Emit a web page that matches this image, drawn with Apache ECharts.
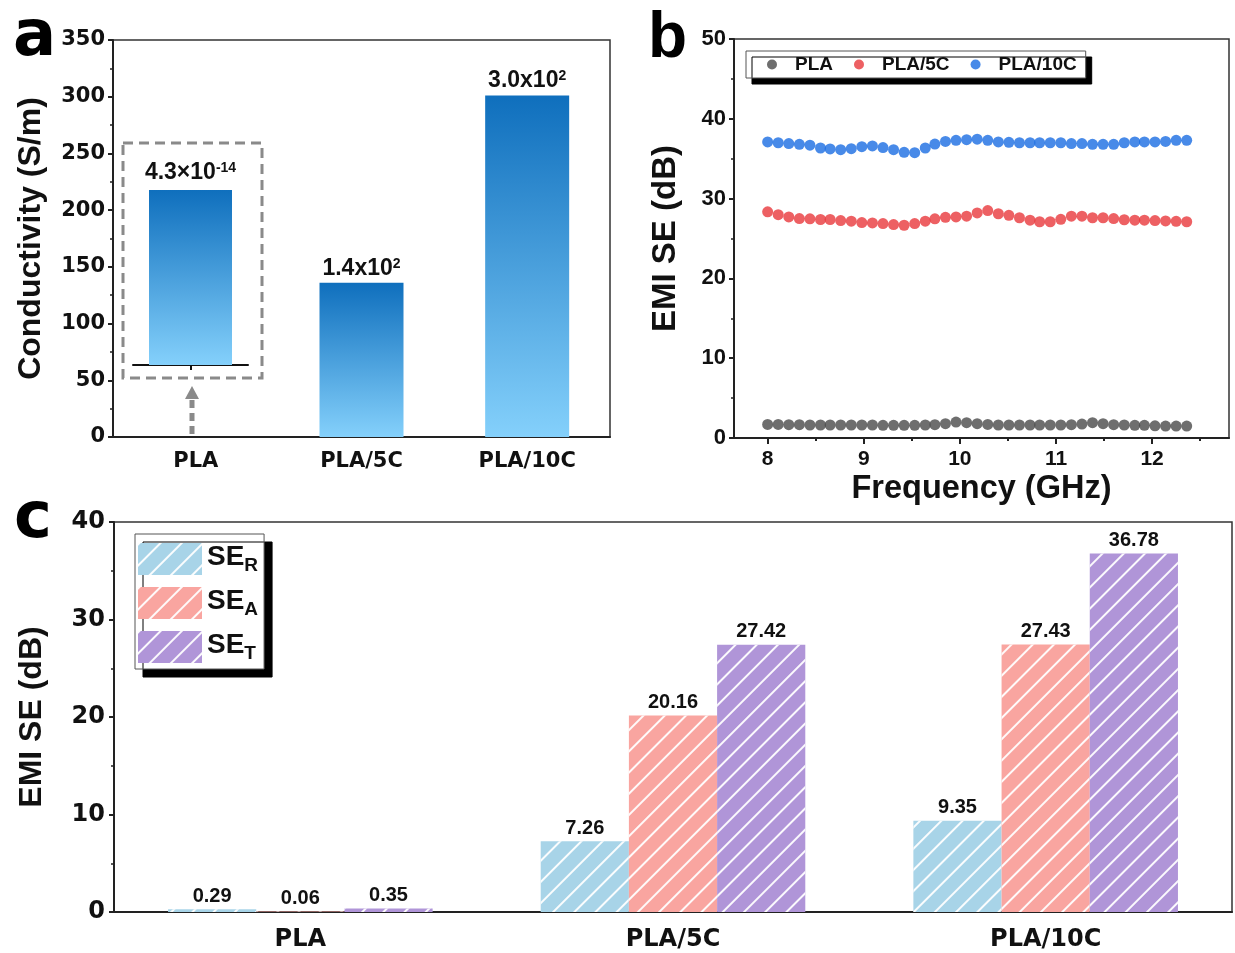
<!DOCTYPE html>
<html>
<head>
<meta charset="utf-8">
<script src="https://cdn.jsdelivr.net/npm/echarts@6/dist/echarts.min.js"></script>
<style>
  html, body { margin: 0; padding: 0; background: #fff; }
  #main { width: 1235px; height: 953px; }
</style>
</head>
<body>
<div id="main"></div>
<script>
// ---- data ----
const catsA = ['PLA', 'PLA/5C', 'PLA/10C']
const condVals = [4.3e-14, 136, 301]
const condBase = ['4.3×10', '1.4x10', '3.0x10']
const condExp = ['-14', '2', '2']

const freq = [8.00, 8.11, 8.22, 8.33, 8.44, 8.55, 8.65, 8.76, 8.87, 8.98,
  9.09, 9.20, 9.31, 9.42, 9.53, 9.64, 9.74, 9.85, 9.96, 10.07,
  10.18, 10.29, 10.40, 10.51, 10.62, 10.73, 10.83, 10.94, 11.05, 11.16,
  11.27, 11.38, 11.49, 11.60, 11.71, 11.82, 11.92, 12.03, 12.14, 12.25, 12.36]
const sePLA = [1.70, 1.70, 1.67, 1.67, 1.63, 1.63, 1.63, 1.63, 1.63, 1.63,
  1.63, 1.59, 1.59, 1.59, 1.59, 1.63, 1.67, 1.80, 2.00, 1.92,
  1.80, 1.70, 1.63, 1.63, 1.63, 1.63, 1.63, 1.63, 1.63, 1.67,
  1.75, 1.92, 1.80, 1.67, 1.63, 1.59, 1.59, 1.52, 1.50, 1.50, 1.50]
const sePLA5C = [28.34, 27.99, 27.70, 27.50, 27.47, 27.38, 27.38, 27.25, 27.17, 27.00,
  26.95, 26.87, 26.74, 26.66, 26.87, 27.17, 27.47, 27.66, 27.70, 27.80,
  28.20, 28.50, 28.10, 27.90, 27.60, 27.30, 27.10, 27.10, 27.40, 27.80,
  27.80, 27.60, 27.60, 27.50, 27.35, 27.30, 27.30, 27.25, 27.20, 27.15, 27.10]
const sePLA10C = [37.10, 37.00, 36.90, 36.80, 36.70, 36.34, 36.22, 36.13, 36.26, 36.50,
  36.60, 36.40, 36.13, 35.80, 35.76, 36.34, 36.84, 37.17, 37.30, 37.38,
  37.45, 37.30, 37.10, 37.05, 37.00, 37.00, 37.00, 37.00, 37.00, 36.90,
  36.90, 36.80, 36.80, 36.80, 37.00, 37.10, 37.10, 37.10, 37.17, 37.30, 37.30]
const freqTicks = [8, 9, 10, 11, 12]
const freqMinor = [8.5, 9.5, 10.5, 11.5, 12.5]

const catsC = ['PLA', 'PLA/5C', 'PLA/10C']
const seR = [0.29, 7.26, 9.35]
const seA = [0.06, 20.16, 27.43]
const seT = [0.35, 27.42, 36.78]

// ---- shared styles ----
const FONT = 'Liberation Sans, Arial, sans-serif'
const WIDE = 'DejaVu Sans, sans-serif'
const bold = (size, fam) => ({ fontFamily: fam || FONT, fontWeight: 'bold', fontSize: size, color: '#111' })
const axisLine = { show: true, lineStyle: { color: '#222', width: 2 } }
const hatch = {
  symbol: 'rect',
  symbolSize: 1,
  dashArrayX: [1, 0],
  dashArrayY: [2, 13],
  rotation: -Math.PI / 4,
  color: 'rgba(255,255,255,0.95)'
}
const blueGrad = new echarts.graphic.LinearGradient(0, 0, 0, 1, [
  { offset: 0, color: '#0f6fbd' },
  { offset: 1, color: '#84d0fb' }
])
const supRich = {
  b: bold(23),
  s: Object.assign(bold(14), { verticalAlign: 'top' })
}

const chart = echarts.init(document.getElementById('main'))
chart.setOption({
  backgroundColor: '#fff',
  animation: false,
  grid: [
    { left: 113, top: 40, width: 497, height: 397, show: true, borderColor: '#333', borderWidth: 1.5 },
    { left: 133, top: 190, width: 115, height: 175 },
    { left: 734, top: 39, width: 495, height: 399, show: true, borderColor: '#333', borderWidth: 1.5 },
    { left: 114, top: 522, width: 1118, height: 390, show: true, borderColor: '#333', borderWidth: 1.5 }
  ],
  xAxis: [
    { // a
      type: 'category', gridIndex: 0, data: catsA,
      axisLine: axisLine, axisTick: { show: false },
      axisLabel: Object.assign(bold(21, WIDE), { margin: 14 })
    },
    { // a inset
      type: 'category', gridIndex: 1, data: ['PLA'],
      axisLine: { show: true, lineStyle: { color: '#111', width: 2 } },
      axisTick: { show: true, alignWithLabel: true, length: 5, lineStyle: { color: '#111', width: 2 } },
      axisLabel: { show: false }
    },
    { // b
      type: 'value', gridIndex: 2, min: 7.65, max: 12.8,
      axisLine: axisLine,
      axisTick: { show: true, customValues: freqTicks, length: 6, lineStyle: { width: 2, color: '#222' } },
      axisLabel: Object.assign(bold(21), { customValues: freqTicks, margin: 11 }),
      splitLine: { show: false },
      name: 'Frequency (GHz)', nameLocation: 'middle', nameGap: 35,
      nameTextStyle: bold(32.5)
    },
    { // b minor ticks
      type: 'value', gridIndex: 2, min: 7.65, max: 12.8, position: 'bottom',
      axisLine: { show: false },
      axisTick: { show: true, customValues: freqMinor, length: 3, lineStyle: { width: 2, color: '#222' } },
      axisLabel: { show: false }, splitLine: { show: false }
    },
    { // c
      type: 'category', gridIndex: 3, data: catsC,
      axisLine: axisLine, axisTick: { show: false },
      axisLabel: Object.assign(bold(24, WIDE), { margin: 16 })
    }
  ],
  yAxis: [
    { // a
      type: 'value', gridIndex: 0, min: 0, max: 350, interval: 50,
      axisLine: axisLine,
      axisTick: { show: true, length: 5, lineStyle: { width: 2, color: '#222' } },
      minorTick: { show: true, splitNumber: 2, length: 3, lineStyle: { width: 1.5, color: '#222' } },
      axisLabel: Object.assign(bold(21, WIDE), { margin: 8 }),
      splitLine: { show: false },
      name: 'Conductivity (S/m)', nameLocation: 'middle', nameRotate: 90, nameGap: 66,
      nameTextStyle: bold(32)
    },
    { // a inset
      type: 'value', gridIndex: 1, min: 0, max: condVals[0], show: false
    },
    { // b
      type: 'value', gridIndex: 2, min: 0, max: 50, interval: 10,
      axisLine: axisLine,
      axisTick: { show: true, length: 5, lineStyle: { width: 2, color: '#222' } },
      minorTick: { show: true, splitNumber: 2, length: 3, lineStyle: { width: 1.5, color: '#222' } },
      axisLabel: Object.assign(bold(22), { margin: 8 }),
      splitLine: { show: false },
      name: 'EMI SE (dB)', nameLocation: 'middle', nameRotate: 90, nameGap: 52,
      nameTextStyle: bold(33)
    },
    { // c
      type: 'value', gridIndex: 3, min: 0, max: 40, interval: 10,
      axisLine: axisLine,
      axisTick: { show: true, length: 5, lineStyle: { width: 2, color: '#222' } },
      minorTick: { show: true, splitNumber: 2, length: 3, lineStyle: { width: 1.5, color: '#222' } },
      axisLabel: Object.assign(bold(24, WIDE), { margin: 9 }),
      splitLine: { show: false },
      name: 'EMI SE (dB)', nameLocation: 'middle', nameRotate: 90, nameGap: 66,
      nameTextStyle: bold(32)
    }
  ],
  legend: [
    {
      data: ['PLA', 'PLA/5C', 'PLA/10C'],
      left: 746, top: 51, orient: 'horizontal',
      icon: 'circle', itemWidth: 10, itemHeight: 10, itemGap: 21,
      padding: [4, 9, 4, 21],
      backgroundColor: '#fff', borderColor: '#555', borderWidth: 1,
      shadowColor: '#000', shadowBlur: 0, shadowOffsetX: 6, shadowOffsetY: 6,
      textStyle: Object.assign(bold(19), { padding: [0, 0, 0, 13] })
    },
    {
      data: ['SE_R', 'SE_A', 'SE_T'],
      left: 135, top: 534, orient: 'vertical',
      icon: 'rect', itemWidth: 64, itemHeight: 32, itemGap: 8,
      padding: [5, 6, 6, 3],
      backgroundColor: '#fff', borderColor: '#555', borderWidth: 1,
      shadowColor: '#000', shadowBlur: 0, shadowOffsetX: 8, shadowOffsetY: 8,
      formatter: (name) => '{m|SE}{s|' + name.split('_')[1] + '}',
      textStyle: {
        rich: {
          m: Object.assign(bold(28), { verticalAlign: 'top', lineHeight: 32 }),
          s: Object.assign(bold(19), { verticalAlign: 'bottom', lineHeight: 18, padding: [17, 0, 0, 0] })
        }
      }
    }
  ],
  graphic: [
    { type: 'text', left: 13, top: 6, style: { text: 'a', font: 'bold 64px ' + WIDE, fill: '#000' } },
    { type: 'text', left: 648, top: 7, style: { text: 'b', font: 'bold 64px ' + FONT, fill: '#000' } },
    { type: 'text', left: 14, top: 488, style: { text: 'c', font: 'bold 64px ' + WIDE, fill: '#000' } },
    // inset frame and arrow in panel a
    { type: 'rect', shape: { x: 123, y: 143, width: 139, height: 235 },
      style: { fill: 'none', stroke: '#8a8a8a', lineWidth: 3, lineDash: [10, 6] } },
    { type: 'polygon', shape: { points: [[192, 386], [185, 399], [199, 399]] }, style: { fill: '#8a8a8a' } },
    { type: 'line', shape: { x1: 192, y1: 400, x2: 192, y2: 435 },
      style: { stroke: '#8a8a8a', lineWidth: 5, lineDash: [8, 5] } }
  ],
  series: [
    {
      name: 'cond', type: 'bar', xAxisIndex: 0, yAxisIndex: 0,
      data: condVals, barWidth: 84,
      itemStyle: { color: blueGrad },
      label: {
        show: true, position: 'top', distance: 3,
        formatter: (p) => p.dataIndex === 0 ? '' : '{b|' + condBase[p.dataIndex] + '}{s|' + condExp[p.dataIndex] + '}',
        rich: supRich
      }
    },
    {
      name: 'condInset', type: 'bar', xAxisIndex: 1, yAxisIndex: 1,
      data: [condVals[0]], barWidth: 83,
      itemStyle: { color: blueGrad },
      label: {
        show: true, position: 'top', distance: 6,
        formatter: () => '{b|' + condBase[0] + '}{s|' + condExp[0] + '}',
        rich: supRich
      }
    },
    { name: 'PLA', type: 'scatter', xAxisIndex: 2, yAxisIndex: 2, symbolSize: 11,
      itemStyle: { color: '#4a4a4a' }, data: freq.map((f, i) => [f, sePLA[i]]) },
    { name: 'PLA/5C', type: 'scatter', xAxisIndex: 2, yAxisIndex: 2, symbolSize: 11,
      itemStyle: { color: '#e8383c' }, data: freq.map((f, i) => [f, sePLA5C[i]]) },
    { name: 'PLA/10C', type: 'scatter', xAxisIndex: 2, yAxisIndex: 2, symbolSize: 11,
      itemStyle: { color: '#1a6de2' }, data: freq.map((f, i) => [f, sePLA10C[i]]) },
    {
      name: 'SE_R', type: 'bar', xAxisIndex: 4, yAxisIndex: 3, data: seR,
      barGap: '0%', barCategoryGap: '29%',
      itemStyle: { color: '#a8d4e8', decal: hatch },
      label: { show: true, position: 'top', distance: 3, ...bold(20) }
    },
    {
      name: 'SE_A', type: 'bar', xAxisIndex: 4, yAxisIndex: 3, data: seA,
      barGap: '0%', barCategoryGap: '29%',
      itemStyle: { color: '#f9a5a0', decal: hatch },
      label: { show: true, position: 'top', distance: 3, ...bold(20) }
    },
    {
      name: 'SE_T', type: 'bar', xAxisIndex: 4, yAxisIndex: 3, data: seT,
      barGap: '0%', barCategoryGap: '29%',
      itemStyle: { color: '#b095d8', decal: hatch },
      label: { show: true, position: 'top', distance: 3, ...bold(20) }
    }
  ]
})
</script>
</body>
</html>
